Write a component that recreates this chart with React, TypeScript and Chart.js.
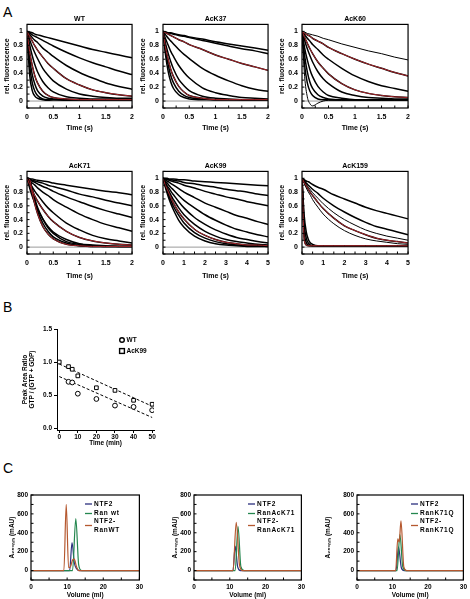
import React, { useEffect, useRef } from 'react';
import { Chart, registerables } from 'chart.js';

Chart.register(...registerables);

const FONT = '"Liberation Sans", Arial, Helvetica, sans-serif';

// ---------------- Panel A: stopped-flow traces (rel. fluorescence vs time) ----------------
const T2 = [0, 0.05, 0.1, 0.15, 0.2, 0.3, 0.4, 0.5, 0.75, 1, 1.25, 1.5, 1.75, 2];
const T5 = [0, 0.1, 0.2, 0.3, 0.4, 0.5, 0.75, 1, 1.5, 2, 2.5, 3, 3.5, 4, 4.5, 5];

const A_Y_TICKS = [0, 0.2, 0.4, 0.6, 0.8, 1];
const A_X2_TICKS = [0, 0.5, 1, 1.5, 2];
const A_X5_TICKS = [0, 1, 2, 3, 4, 5];

const WT_1 = [1, .99, .98, .96, .95, .93, .91, .89, .84, .79, .74, .70, .66, .62];
const WT_2 = [1, .98, .95, .93, .91, .87, .83, .79, .70, .62, .55, .49, .43, .38];
const WT_3 = [1, .96, .91, .87, .84, .76, .70, .64, .51, .41, .33, .26, .21, .17];
const WT_4 = [1, .93, .86, .79, .73, .63, .54, .47, .32, .23, .16, .12, .09, .07];
const WT_5 = [1, .88, .78, .69, .61, .47, .37, .29, .17, .10, .07, .05, .04, .04];
const WT_6 = [1, .81, .65, .52, .42, .28, .19, .13, .06, .04, .03, .03, .03, .03];
const WT_7 = [1, .71, .51, .36, .26, .14, .08, .05, .03, .02, .02, .02, .02, .02];
const WT_8 = [1, .61, .38, .24, .15, .07, .04, .03, .02, .02, .02, .02, .02, .02];
const WT_9 = [1, .51, .26, .14, .08, .03, .02, .02, .02, .02, .02, .02, .02, .02];
const WT_10 = [1, .38, .15, .07, .04, .02, .01, .02, .01, .02, .02, .02, .02, .02];

const K37_1 = [1, .99, .98, .98, .97, .95, .94, .92, .89, .85, .82, .79, .76, .73];
const K37_2 = [1, .99, .98, .97, .96, .94, .93, .91, .87, .83, .79, .75, .72, .68];
const K37_3 = [1, .98, .96, .94, .92, .88, .85, .81, .74, .66, .60, .54, .49, .44];
const K37_4 = [1, .95, .90, .86, .82, .74, .67, .61, .47, .37, .29, .22, .17, .14];
const K37_5 = [1, .89, .80, .71, .64, .51, .41, .33, .19, .12, .08, .05, .04, .03];
const K37_6 = [1, .82, .68, .56, .46, .31, .22, .15, .07, .04, .03, .02, .02, .02];
const K37_7 = [1, .76, .59, .45, .35, .21, .13, .08, .04, .02, .02, .02, .02, .02];
const K37_8 = [1, .71, .51, .36, .26, .14, .08, .05, .03, .02, .02, .02, .02, .02];
const K37_9 = [1, .65, .42, .27, .18, .09, .05, .03, .02, .02, .02, .02, .02, .02];

const K60_1 = [1, .99, .97, .96, .95, .93, .90, .88, .82, .77, .72, .68, .63, .59];
const K60_2 = [1, .97, .95, .93, .90, .86, .82, .77, .68, .60, .53, .47, .41, .36];
const K60_3 = [1, .95, .90, .86, .81, .74, .66, .60, .47, .36, .28, .22, .18, .14];
const K60_4 = [1, .91, .83, .75, .68, .56, .47, .39, .25, .16, .11, .08, .06, .05];
const K60_5 = [1, .87, .75, .65, .56, .42, .32, .25, .13, .08, .05, .04, .03, .03];
const K60_6 = [1, .76, .59, .45, .35, .21, .13, .08, .04, .02, .02, .02, .02, .02];
const K60_7 = [1, .65, .42, .27, .18, .09, .05, .03, .02, .02, .02, .02, .02, .02];
const K60_8 = [1, .51, .26, .14, .08, .03, .02, .02, .02, .02, .02, .02, .02, .02];
const K60_9 = [1, .35, .06, -.04, -.07, -.03, 0, .01, .01, .01, .01, .01, .01, .01];

const K71_1 = [1, .99, .99, .98, .97, .96, .95, .93, .90, .87, .84, .81, .79, .76];
const K71_2 = [1, .99, .97, .96, .95, .93, .90, .88, .83, .77, .73, .68, .64, .60];
const K71_3 = [1, .98, .96, .94, .92, .88, .85, .81, .73, .66, .59, .53, .48, .43];
const K71_4 = [1, .96, .93, .90, .86, .80, .75, .69, .58, .48, .40, .33, .28, .23];
const K71_5 = [1, .93, .87, .81, .76, .66, .57, .50, .35, .25, .17, .12, .09, .06];
const K71_6 = [1, .91, .82, .74, .67, .55, .45, .37, .23, .14, .09, .06, .04, .03];
const K71_7 = [1, .86, .74, .64, .55, .41, .30, .22, .11, .05, .03, .02, .01, .01];
const K71_8 = [1, .99, .84, .70, .58, .41, .28, .20, .08, .04, .02, .01, .01, .01];
const K71_9 = [1, .99, .81, .66, .53, .35, .23, .15, .06, .02, .01, .01, .01, .01];
const K71_10 = [1, .98, .79, .62, .49, .30, .19, .12, .04, .02, .01, .01, .01, .01];

const K99_1 = [1, 1, 1, .99, .99, .99, .98, .98, .96, .95, .94, .93, .92, .91, .90, .89];
const K99_2 = [1, .99, .99, .98, .98, .97, .96, .94, .92, .89, .87, .84, .82, .80, .77, .75];
const K99_3 = [1, .99, .98, .97, .96, .95, .93, .90, .86, .81, .77, .73, .70, .66, .63, .60];
const K99_4 = [1, .98, .96, .94, .92, .90, .85, .80, .72, .64, .58, .52, .46, .42, .37, .33];
const K99_5 = [1, .96, .93, .89, .86, .83, .75, .68, .57, .47, .39, .32, .26, .22, .18, .15];
const K99_6 = [1, .95, .89, .85, .80, .76, .66, .57, .43, .33, .25, .19, .14, .11, .08, .06];
const K99_7 = [1, .93, .86, .80, .74, .69, .57, .47, .33, .23, .16, .11, .08, .06, .04, .03];
const K99_8 = [1, .91, .84, .77, .70, .64, .51, .41, .26, .17, .11, .07, .05, .03, .03, .02];
const K99_9 = [1, .90, .81, .73, .66, .59, .46, .35, .21, .13, .08, .05, .03, .02, .02, .01];
const K99_10 = [1, .88, .78, .69, .61, .54, .39, .29, .16, .09, .05, .03, .02, .01, .01, .01];

const K159_1 = [1, .98, .96, .95, .93, .91, .87, .84, .76, .70, .64, .58, .53, .49, .45, .41];
const K159_2 = [1, .97, .93, .90, .87, .84, .78, .71, .60, .51, .43, .36, .30, .26, .22, .18];
const K159_3 = [1, .95, .91, .87, .83, .79, .71, .63, .50, .40, .32, .25, .20, .16, .13, .10];
const K159_4 = [1, .94, .89, .84, .79, .75, .65, .56, .42, .31, .24, .18, .13, .10, .08, .06];
const K159_5 = [1, .93, .86, .80, .75, .69, .58, .48, .34, .24, .17, .12, .09, .07, .05, .04];
const K159_6 = [1, .47, .22, .11, .06, .04, .02, .02, .02, .02, .02, .02, .02, .02, .02, .02];
const K159_7 = [1, .35, .13, .06, .03, .02, .02, .02, .02, .02, .02, .02, .02, .02, .02, .02];
const K159_8 = [1, .24, .07, .03, .02, .02, .02, .02, .02, .02, .02, .02, .02, .02, .02, .02];
const K159_9 = [1, .13, .03, .02, .02, .02, .02, .02, .02, .02, .02, .02, .02, .02, .02, .02];

// ---------------- Panel B: peak area ratio ----------------
const B_T_WT = [5, 7, 10, 20, 30, 40, 50];
const B_WT = [0.70, 0.69, 0.52, 0.44, 0.34, 0.32, 0.27];
const B_T_K99 = [0, 5, 7, 10, 20, 30, 40, 50];
const B_K99 = [1.00, 0.93, 0.89, 0.79, 0.61, 0.57, 0.42, 0.36];
const B_FIT_T = [0, 50];
const B_FIT_WT = [0.78, 0.16];
const B_FIT_K99 = [0.97, 0.33];
const B_X_TICKS = [0, 10, 20, 30, 40, 50];
const B_Y_TICKS = [0, 0.5, 1, 1.5];

// ---------------- Panel C: gel filtration (A280 vs volume) ----------------
const C_X_TICKS = [0, 10, 20, 30];
const C_Y_TICKS = [0, 200, 400, 600, 800];

const C1_NTF2_V = [0, 10.7, 11.35, 12, 12.6, 13.5, 30];
const C1_NTF2 = [0, 0, 295, 80, 20, 0, 0];
const C1_RAN_V = [0, 11.5, 12.4, 13.2, 14, 30];
const C1_RAN = [0, 0, 550, 60, 0, 0];
const C1_CPLX_V = [0, 9.1, 9.75, 10.4, 10.9, 11.5, 12, 12.6, 13.2, 30];
const C1_CPLX = [0, 0, 700, 30, 40, 110, 120, 40, 0, 0];

const C2_NTF2_V = [0, 10.9, 11.5, 12.2, 13, 30];
const C2_NTF2 = [0, 0, 260, 40, 0, 0];
const C2_RAN_V = [0, 11.5, 12.3, 13.1, 14, 30];
const C2_RAN = [0, 0, 465, 40, 0, 0];
const C2_CPLX_V = [0, 10.9, 11.8, 12.7, 13.5, 30];
const C2_CPLX = [0, 0, 510, 60, 0, 0];

const C3_NTF2_V = [0, 11, 11.7, 12.5, 13.3, 30];
const C3_NTF2 = [0, 0, 250, 30, 0, 0];
const C3_RAN_V = [0, 11.3, 12.1, 12.9, 13.8, 30];
const C3_RAN = [0, 0, 380, 40, 0, 0];
const C3_CPLX_V = [0, 10.9, 11.5, 11.9, 12.4, 13.2, 14, 30];
const C3_CPLX = [0, 0, 335, 300, 525, 40, 0, 0];

// ---------------- helpers ----------------
const RED = '#a8262b';
const NAVY = '#2b2f7e';
const GREEN = '#24874f';
const BROWN = '#b5582f';

const xy = (xs: number[], ys: number[]) => xs.map((x, i) => ({ x, y: ys[i] }));
const fmt = (v: number) => String(Math.round(v * 100) / 100);
const bold = (size: number) => ({ family: FONT, size, weight: 'bold' as const });

const framePlugin = {
  id: 'frame',
  beforeDatasetsDraw(chart: any, _a: any, o: any) {
    const { ctx, chartArea: a } = chart;
    if (o && o.zeroLine) {
      const y = chart.scales.y.getPixelForValue(0);
      ctx.save();
      ctx.strokeStyle = o.zeroLine;
      ctx.lineWidth = 1;
      ctx.beginPath();
      ctx.moveTo(a.left, y);
      ctx.lineTo(a.right, y);
      ctx.stroke();
      ctx.restore();
    }
  },
  afterDatasetsDraw(chart: any, _a: any, o: any) {
    if (!o) return;
    const { ctx, chartArea: a, scales } = chart;
    ctx.save();
    ctx.strokeStyle = '#000';
    ctx.lineWidth = 1.2;
    if (o.box) ctx.strokeRect(a.left, a.top, a.right - a.left, a.bottom - a.top);
    ctx.lineWidth = 1;
    if (o.xIn) {
      const s = scales.x;
      const n = Math.round((s.max - o.xIn.from) / o.xIn.step);
      for (let i = 0; i <= n; i++) {
        const p = s.getPixelForValue(o.xIn.from + i * o.xIn.step);
        ctx.beginPath();
        ctx.moveTo(p, a.bottom);
        ctx.lineTo(p, a.bottom - o.xIn.len);
        ctx.stroke();
      }
    }
    if (o.yIn) {
      const s = scales.y;
      const n = Math.round((s.max - o.yIn.from) / o.yIn.step);
      for (let i = 0; i <= n; i++) {
        const p = s.getPixelForValue(o.yIn.from + i * o.yIn.step);
        ctx.beginPath();
        ctx.moveTo(a.left, p);
        ctx.lineTo(a.left + o.yIn.len, p);
        ctx.stroke();
      }
    }
    if (o.marks) {
      ctx.font = `bold ${o.markFont || 6.5}px ${FONT}`;
      ctx.textBaseline = 'middle';
      ctx.textAlign = 'left';
      (ctx as any).letterSpacing = o.spacing || '0px';
      for (const m of o.marks) {
        const x = a.left + m.x;
        const y = a.top + m.y;
        if (m.type === 'line') {
          ctx.strokeStyle = m.color;
          ctx.lineWidth = 1.3;
          ctx.beginPath();
          ctx.moveTo(x, y);
          ctx.lineTo(a.left + m.x2, y);
          ctx.stroke();
        } else if (m.type === 'circle') {
          ctx.strokeStyle = '#000';
          ctx.fillStyle = '#fff';
          ctx.lineWidth = 1.4;
          ctx.beginPath();
          ctx.arc(x, y, 2.3, 0, Math.PI * 2);
          ctx.fill();
          ctx.stroke();
        } else if (m.type === 'square') {
          ctx.strokeStyle = '#000';
          ctx.fillStyle = '#fff';
          ctx.lineWidth = 1.4;
          ctx.fillRect(x - 2.4, y - 2.4, 4.8, 4.8);
          ctx.strokeRect(x - 2.4, y - 2.4, 4.8, 4.8);
        } else if (m.type === 'text') {
          ctx.fillStyle = '#000';
          ctx.fillText(m.text, x, y);
        }
      }
    }
    ctx.restore();
  },
};

const setTicks = (vals: number[]) => (s: any) => {
  s.ticks = vals.map((v) => ({ value: v }));
};

const NO_GRID = { display: false, drawTicks: false, drawOnChartArea: false };

// ---------------- Panel A configs ----------------
type APanel = {
  title: string;
  t: number[];
  xMax: number;
  xTicks: number[];
  curves: number[][];
  red: number[];
  thin: number[];
  col: number;
  row: number;
};

const A_PANELS: APanel[] = [
  { title: 'WT', t: T2, xMax: 2, xTicks: A_X2_TICKS, curves: [WT_1, WT_2, WT_3, WT_4, WT_5, WT_6, WT_7, WT_8, WT_9, WT_10], red: [3, 6], thin: [], col: 0, row: 0 },
  { title: 'AcK37', t: T2, xMax: 2, xTicks: A_X2_TICKS, curves: [K37_1, K37_2, K37_3, K37_4, K37_5, K37_6, K37_7, K37_8, K37_9], red: [2, 6], thin: [], col: 1, row: 0 },
  { title: 'AcK60', t: T2, xMax: 2, xTicks: A_X2_TICKS, curves: [K60_1, K60_2, K60_3, K60_4, K60_5, K60_6, K60_7, K60_8, K60_9], red: [1, 3], thin: [0, 8], col: 2, row: 0 },
  { title: 'AcK71', t: T2, xMax: 2, xTicks: A_X2_TICKS, curves: [K71_1, K71_2, K71_3, K71_4, K71_5, K71_6, K71_7, K71_8, K71_9, K71_10], red: [5, 9], thin: [], col: 0, row: 1 },
  { title: 'AcK99', t: T5, xMax: 5, xTicks: A_X5_TICKS, curves: [K99_1, K99_2, K99_3, K99_4, K99_5, K99_6, K99_7, K99_8, K99_9, K99_10], red: [7], thin: [], col: 1, row: 1 },
  { title: 'AcK159', t: T5, xMax: 5, xTicks: A_X5_TICKS, curves: [K159_1, K159_2, K159_3, K159_4, K159_5, K159_6, K159_7, K159_8, K159_9], red: [3, 8], thin: [2, 4], col: 2, row: 1 },
];

const A_COL_LEFT = [0, 136, 275];
const A_COL_W = [139, 139, 140];
const A_ROW_TOP = [10, 155];
const A_ROW_H = [122, 125];
const A_ROW_HX = [24, 26];
const A_ROW_PAD = [5, 7];

function aConfig(p: APanel): any {
  const datasets: any[] = [];
  p.curves.forEach((vals, i) => {
    const base = {
      data: xy(p.t, vals),
      pointRadius: 0,
      fill: false,
      cubicInterpolationMode: 'monotone',
    };
    datasets.push({ ...base, borderColor: '#000', borderWidth: p.thin.includes(i) ? 1 : 1.5, order: 2 });
    if (p.red.includes(i)) datasets.push({ ...base, borderColor: RED, borderWidth: 1, order: 1 });
  });
  return {
    type: 'line',
    data: { datasets },
    plugins: [framePlugin],
    options: {
      animation: false,
      responsive: false,
      devicePixelRatio: 1,
      layout: { padding: { top: A_ROW_PAD[p.row], right: 4, left: 0, bottom: 0 } },
      plugins: {
        legend: { display: false },
        tooltip: { enabled: false },
        title: { display: true, text: p.title, fullSize: false, color: '#000', font: bold(7), padding: { top: 0, bottom: 1 } },
        frame: {
          box: true,
          zeroLine: '#9a9a9a',
          xIn: { from: 0, step: p.xMax === 2 ? 0.25 : 0.5, len: 2.5 },
          yIn: { from: -0.1, step: 0.1, len: 2.5 },
        },
      },
      scales: {
        x: {
          type: 'linear',
          min: 0,
          max: p.xMax,
          afterBuildTicks: setTicks(p.xTicks),
          grid: NO_GRID,
          border: { display: false },
          ticks: { color: '#000', font: bold(7), padding: 5, maxRotation: 0, autoSkip: false, callback: (v: any) => fmt(v) },
          title: { display: true, text: 'Time (s)', color: '#000', font: bold(7), padding: { top: 0, bottom: 0 } },
          afterFit: (s: any) => { s.height = A_ROW_HX[p.row]; },
        },
        y: {
          type: 'linear',
          min: -0.1,
          max: 1.1,
          afterBuildTicks: setTicks(A_Y_TICKS),
          grid: NO_GRID,
          border: { display: false },
          ticks: { color: '#000', font: bold(7), padding: 4, autoSkip: false, callback: (v: any) => fmt(v) },
          title: { display: true, text: 'rel. fluorescence', color: '#000', font: bold(7), padding: { top: 2.8, bottom: 0 } },
          afterFit: (s: any) => { s.width = 27; },
        },
      },
    },
  };
}

// ---------------- Panel B config ----------------
function bConfig(): any {
  return {
    type: 'scatter',
    data: {
      datasets: [
        { label: 'WT', data: xy(B_T_WT, B_WT), pointStyle: 'circle', pointRadius: 2.4, borderColor: '#000', backgroundColor: '#fff', borderWidth: 1, showLine: false, order: 1 },
        { label: 'AcK99', data: xy(B_T_K99, B_K99), pointStyle: 'rect', pointRadius: 2.6, borderColor: '#000', backgroundColor: '#fff', borderWidth: 1, showLine: false, order: 1 },
        { label: 'WT fit', data: xy(B_FIT_T, B_FIT_WT), showLine: true, borderDash: [3, 2], borderColor: '#000', borderWidth: 1, pointRadius: 0, order: 2 },
        { label: 'AcK99 fit', data: xy(B_FIT_T, B_FIT_K99), showLine: true, borderDash: [3, 2], borderColor: '#000', borderWidth: 1, pointRadius: 0, order: 2 },
      ],
    },
    plugins: [framePlugin],
    options: {
      animation: false,
      responsive: false,
      devicePixelRatio: 1,
      layout: { padding: { top: 9, right: 11, left: 0, bottom: 0 } },
      plugins: {
        legend: { display: false },
        tooltip: { enabled: false },
        frame: {
          markFont: 6.5,
          marks: [
            { type: 'circle', x: 65, y: 11 },
            { type: 'text', x: 69.5, y: 11, text: 'WT' },
            { type: 'square', x: 65, y: 22 },
            { type: 'text', x: 69.5, y: 22, text: 'AcK99' },
          ],
        },
      },
      scales: {
        x: {
          type: 'linear',
          min: -1.2,
          max: 51,
          afterBuildTicks: setTicks(B_X_TICKS),
          grid: { display: true, drawOnChartArea: false, drawTicks: true, tickLength: 3, color: '#000', lineWidth: 1 },
          border: { display: true, color: '#000', width: 1 },
          ticks: { color: '#000', font: bold(6.5), padding: 0, maxRotation: 0, autoSkip: false, callback: (v: any) => fmt(v) },
          title: { display: true, text: 'Time (min)', color: '#000', font: bold(6.5), padding: { top: 0, bottom: 1 } },
          afterFit: (s: any) => { s.height = 18; },
        },
        y: {
          type: 'linear',
          min: -0.03,
          max: 1.5,
          afterBuildTicks: setTicks(B_Y_TICKS),
          grid: { display: true, drawOnChartArea: false, drawTicks: true, tickLength: 3, color: '#000', lineWidth: 1 },
          border: { display: true, color: '#000', width: 1 },
          ticks: { color: '#000', font: bold(6.5), padding: 2, autoSkip: false, callback: (v: any) => Number(v).toFixed(1) },
          title: { display: true, text: ['Peak Area Ratio', 'GTP / (GTP + GDP)'], color: '#000', font: bold(6.5), padding: { top: 21, bottom: 0 } },
          afterFit: (s: any) => { s.width = 57; },
        },
      },
    },
  };
}

// ---------------- Panel C configs ----------------
type CPanel = {
  ntf2V: number[]; ntf2: number[];
  ranV: number[]; ran: number[];
  cplxV: number[]; cplx: number[];
  ranLabel: string; cplxLabel: string[];
  wy: number; titlePad: number;
};

const C_PANELS: CPanel[] = [
  { ntf2V: C1_NTF2_V, ntf2: C1_NTF2, ranV: C1_RAN_V, ran: C1_RAN, cplxV: C1_CPLX_V, cplx: C1_CPLX, ranLabel: 'Ran wt', cplxLabel: ['NTF2-', 'RanWT'], wy: 31, titlePad: 8.6 },
  { ntf2V: C2_NTF2_V, ntf2: C2_NTF2, ranV: C2_RAN_V, ran: C2_RAN, cplxV: C2_CPLX_V, cplx: C2_CPLX, ranLabel: 'RanAcK71', cplxLabel: ['NTF2-', 'RanAcK71'], wy: 31, titlePad: 8 },
  { ntf2V: C3_NTF2_V, ntf2: C3_NTF2, ranV: C3_RAN_V, ran: C3_RAN, cplxV: C3_CPLX_V, cplx: C3_CPLX, ranLabel: 'RanK71Q', cplxLabel: ['NTF2-', 'RanK71Q'], wy: 35, titlePad: 2 },
];
const C_LEFT = [0, 163, 322];
const C_W = [146, 145, 148];

function cConfig(p: CPanel): any {
  const line = (v: number[], y: number[], color: string, order: number, label: string) => ({
    label, data: xy(v, y), borderColor: color, borderWidth: 1.2, pointRadius: 0, fill: false,
    cubicInterpolationMode: 'monotone', order,
  });
  return {
    type: 'line',
    data: {
      datasets: [
        line(p.cplxV, p.cplx, BROWN, 0, p.cplxLabel.join('')),
        line(p.ranV, p.ran, GREEN, 1, p.ranLabel),
        line(p.ntf2V, p.ntf2, NAVY, 2, 'NTF2'),
      ],
    },
    plugins: [framePlugin],
    options: {
      animation: false,
      responsive: false,
      devicePixelRatio: 1,
      layout: { padding: { top: 10, right: 3, left: 0, bottom: 0 } },
      plugins: {
        legend: { display: false },
        tooltip: { enabled: false },
        frame: {
          box: true,
          xIn: { from: 0, step: 5, len: 2.5 },
          yIn: { from: -100, step: 100, len: 2.5 },
          markFont: 6.5,
          spacing: '0.7px',
          marks: [
            { type: 'line', x: 54, x2: 61, y: 9, color: NAVY },
            { type: 'text', x: 63, y: 9, text: 'NTF2' },
            { type: 'line', x: 54, x2: 61, y: 18.5, color: GREEN },
            { type: 'text', x: 63, y: 18.5, text: p.ranLabel },
            { type: 'line', x: 54, x2: 61, y: 30.5, color: BROWN },
            { type: 'text', x: 63, y: 26.5, text: p.cplxLabel[0] },
            { type: 'text', x: 63, y: 35, text: p.cplxLabel[1] },
          ],
        },
      },
      scales: {
        x: {
          type: 'linear',
          min: 0,
          max: 30,
          afterBuildTicks: setTicks(C_X_TICKS),
          grid: NO_GRID,
          border: { display: false },
          ticks: { color: '#000', font: bold(6.5), padding: 3, maxRotation: 0, autoSkip: false },
          title: { display: true, text: 'Volume (ml)', color: '#000', font: bold(6.5), padding: { top: 0, bottom: 0 } },
          afterFit: (s: any) => { s.height = 19; },
        },
        y: {
          type: 'linear',
          min: -100,
          max: 800,
          afterBuildTicks: setTicks(C_Y_TICKS),
          grid: NO_GRID,
          border: { display: false },
          ticks: { color: '#000', font: bold(6.5), padding: 3, autoSkip: false },
          title: { display: true, text: 'A₂₈₀ₙₘ (mAU)', color: '#000', font: bold(6.5), padding: { top: p.titlePad, bottom: 0 } },
          afterFit: (s: any) => { s.width = p.wy; },
        },
      },
    },
  };
}

// ---------------- components ----------------
function ChartBox(props: { left: number; top: number; width: number; height: number; make: () => any }) {
  const ref = useRef<HTMLCanvasElement>(null);
  useEffect(() => {
    const chart = new Chart(ref.current as HTMLCanvasElement, props.make());
    return () => chart.destroy();
  }, []);
  return (
    <canvas
      ref={ref}
      width={props.width}
      height={props.height}
      style={{ position: 'absolute', left: props.left, top: props.top, width: props.width, height: props.height }}
    />
  );
}

const letterStyle = (left: number, top: number): React.CSSProperties => ({
  position: 'absolute', left, top, fontFamily: FONT, fontSize: 14, lineHeight: '14px', color: '#000',
});

export default function App() {
  return (
    <div style={{ position: 'absolute', left: 0, top: 0, width: 470, height: 599, background: '#fff', overflow: 'hidden' }}>
      <div style={letterStyle(3, 5)}>A</div>
      <div style={letterStyle(3, 300)}>B</div>
      <div style={letterStyle(3, 461)}>C</div>
      {A_PANELS.map((p, i) => (
        <ChartBox
          key={'a' + i}
          left={A_COL_LEFT[p.col]}
          top={A_ROW_TOP[p.row]}
          width={A_COL_W[p.col]}
          height={A_ROW_H[p.row]}
          make={() => aConfig(p)}
        />
      ))}
      <ChartBox left={0} top={320} width={165} height={128} make={bConfig} />
      {C_PANELS.map((p, i) => (
        <ChartBox key={'c' + i} left={C_LEFT[i]} top={485} width={C_W[i]} height={114} make={() => cConfig(p)} />
      ))}
    </div>
  );
}
